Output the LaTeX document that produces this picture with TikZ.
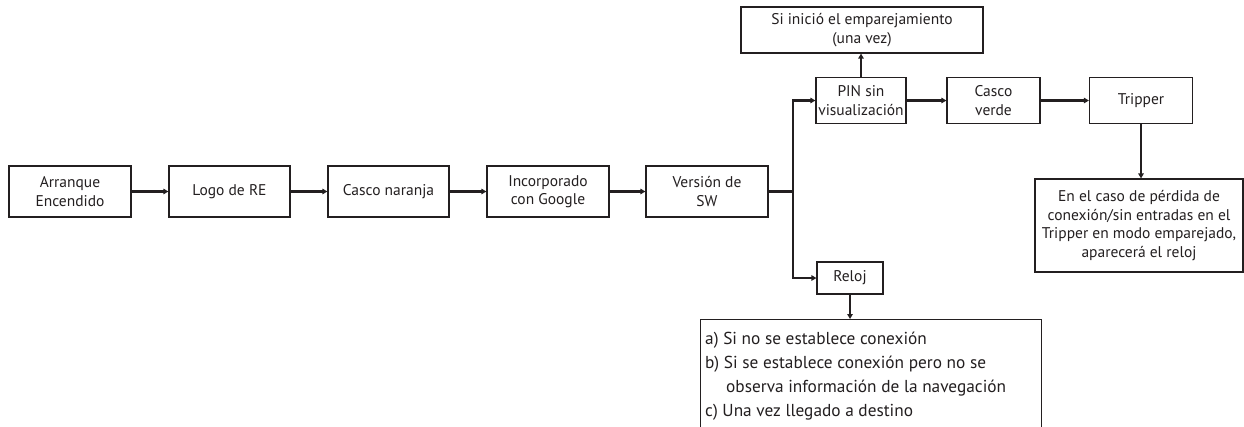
\documentclass[tikz,border=0pt]{standalone}
\usepackage{fontspec}
\setmainfont{PT Sans}
\usetikzlibrary{arrows.meta}
\definecolor{ink}{HTML}{231F20}
\begin{document}
\begin{tikzpicture}[x=1pt,y=-1pt,
  box/.style={draw=ink,line width=1.2pt,fill=white,text=ink,align=center,inner sep=2pt,
    font=\fontsize{15.5}{18.5}\selectfont},
  conn/.style={draw=ink,line width=2.4pt,-{Triangle[length=5pt,width=5.5pt]},shorten >=0pt},
  plain/.style={draw=ink,line width=2.4pt}]
\useasboundingbox (0,0) rectangle (1244,426);
\clip (0,0) rectangle (1244,426);
\node[box,minimum width=122pt,minimum height=51pt] (arr) at (70,191.5) {Arranque\\Encendido};
\node[box,minimum width=121pt,minimum height=51pt] (logo) at (229.5,191.5) {Logo de RE};
\node[box,minimum width=121pt,minimum height=51pt] (casco) at (388.5,191.5) {Casco naranja};
\node[box,minimum width=122pt,minimum height=51pt] (inc) at (548,191.5) {Incorporado\\con Google};
\node[box,minimum width=122pt,minimum height=51pt] (ver) at (707,191.5) {Versión de\\SW};
\node[box,minimum width=90pt,minimum height=46pt] (pin) at (861,100.5) {PIN sin\\visualización};
\node[box,minimum width=242pt,minimum height=46pt] (si) at (862,30) {Si inició el emparejamiento\\(una vez)};
\node[box,minimum width=93pt,minimum height=46pt] (verde) at (993.5,100.5) {Casco\\verde};
\node[box,minimum width=103pt,minimum height=46pt] (trip) at (1141,100.5) {Tripper};
\node[box,minimum width=208pt,minimum height=93pt] (perd) at (1139,225.5) {En el caso de pérdida de\\conexión/sin entradas en el\\Tripper en modo emparejado,\\aparecerá el reloj};
\node[box,minimum width=66pt,minimum height=32pt] (reloj) at (850,278) {Reloj};
\node[box,anchor=north west,minimum width=341pt,minimum height=140pt] (bot) at (700,319) {};
\node[anchor=north west,text=ink,align=left,inner sep=0pt,font=\fontsize{17.3}{24}\selectfont] (bottxt) at ([shift={(5,13)}]bot.north west)
  {a) Si no se establece conexión\\b) Si se establece conexión pero no se\\\hspace*{21pt}observa información de la navegación\\c) Una vez llegado a destino};
\coordinate (split) at (793,191.5);
\draw[conn] (arr) -- (logo);
\draw[conn] (logo) -- (casco);
\draw[conn] (casco) -- (inc);
\draw[conn] (inc) -- (ver);
\draw[plain] (ver.east) -- (split);
\draw[conn] (split) |- (pin.west);
\draw[conn] (split) |- (reloj.west);
\draw[conn] (pin.north) -- (pin.north |- si.south);
\draw[conn] (pin) -- (verde);
\draw[conn] (verde) -- (trip);
\draw[conn] (trip.south) -- (trip.south |- perd.north);
\draw[conn] (reloj.south) -- (reloj.south |- bot.north);
\end{tikzpicture}
\end{document}
